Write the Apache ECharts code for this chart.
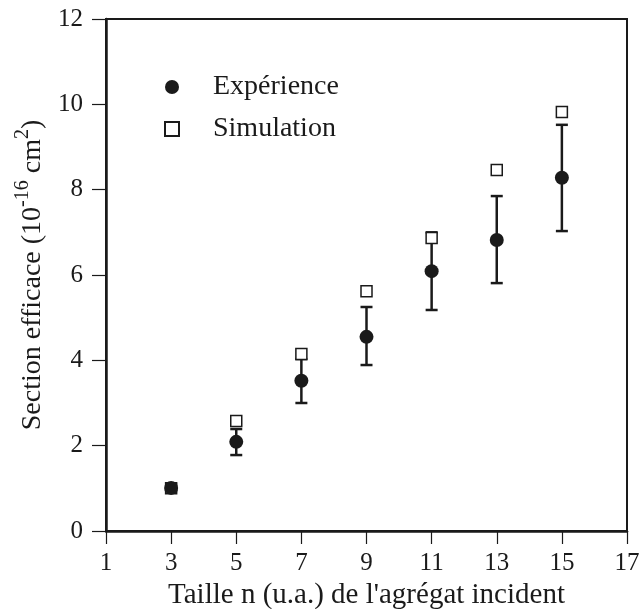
<!DOCTYPE html>
<html>
<head>
<meta charset="utf-8">
<script src="https://cdn.jsdelivr.net/npm/echarts@6/dist/echarts.min.js"></script>
<style>
html,body{margin:0;padding:0;background:#fff;}
#chart{width:641px;height:609px;}
</style>
</head>
<body>
<div id="chart"></div>
<script>
const sizes = [3, 5, 7, 9, 11, 13, 15];
const experience = [1.01, 2.09, 3.52, 4.55, 6.09, 6.82, 8.28];
const errLow = [0.93, 1.78, 3.00, 3.89, 5.18, 5.81, 7.03];
const errHigh = [1.10, 2.39, 4.03, 5.25, 7.00, 7.85, 9.52];
const simulation = [1.00, 2.58, 4.15, 5.62, 6.87, 8.46, 9.82];

const FONT = "'Liberation Serif', 'DejaVu Serif', serif";
const INK = '#1a1a1a';

const chart = echarts.init(document.getElementById('chart'));
chart.setOption({
  animation: false,
  backgroundColor: '#fff',
  grid: { left: 106, right: 14, top: 19, bottom: 78, outerBoundsMode: 'none', containLabel: false, show: true, borderColor: INK, borderWidth: 2, backgroundColor: 'transparent' },
  legend: {
    orient: 'vertical',
    left: 159,
    top: 68,
    itemGap: 14,
    itemWidth: 14,
    itemHeight: 14,
    textStyle: { fontFamily: FONT, fontSize: 28, color: INK, padding: [0, 0, 0, 29] },
    data: [
      { name: 'Expérience', icon: 'circle' },
      { name: 'Simulation', icon: 'rect' }
    ]
  },
  xAxis: {
    type: 'value', min: 1, max: 17, interval: 2,
    name: "Taille n (u.a.) de l'agrégat incident",
    nameLocation: 'middle', nameGap: 46,
    nameTextStyle: { fontFamily: FONT, fontSize: 29, color: INK },
    axisLine: { lineStyle: { color: INK, width: 2.5 } },
    axisTick: { show: true, inside: false, length: 13, lineStyle: { color: INK, width: 1.2 } },
    axisLabel: { fontFamily: FONT, fontSize: 25, color: INK, margin: 20 },
    splitLine: { show: false }
  },
  yAxis: {
    type: 'value', min: 0, max: 12, interval: 2,
    name: '{t|Section efficace (10}{s|-16}{t| cm}{s|2}{t|)}',
    nameLocation: 'middle', nameGap: 59, nameRotate: 90,
    nameTextStyle: {
      fontFamily: FONT, fontSize: 28, color: INK,
      rich: {
        t: { fontFamily: FONT, fontSize: 28, color: INK, lineHeight: 34, verticalAlign: 'bottom' },
        s: { fontFamily: FONT, fontSize: 20, color: INK, lineHeight: 34, verticalAlign: 'top' }
      }
    },
    axisLine: { lineStyle: { color: INK, width: 2.5 } },
    axisTick: { show: true, inside: false, length: 14, lineStyle: { color: INK, width: 1.2 } },
    axisLabel: { fontFamily: FONT, fontSize: 25, color: INK, margin: 23 },
    splitLine: { show: false }
  },
  series: [
    {
      type: 'custom',
      name: 'errorbars',
      data: sizes.map((s, i) => [s, errLow[i], errHigh[i]]),
      renderItem: function (params, api) {
        const x = api.value(0);
        const lo = api.coord([x, api.value(1)]);
        const hi = api.coord([x, api.value(2)]);
        const hw = 6;
        const st = { stroke: INK, lineWidth: 2.5 };
        return {
          type: 'group',
          children: [
            { type: 'line', shape: { x1: lo[0], y1: lo[1], x2: hi[0], y2: hi[1] }, style: st },
            { type: 'line', shape: { x1: hi[0] - hw, y1: hi[1], x2: hi[0] + hw, y2: hi[1] }, style: st },
            { type: 'line', shape: { x1: lo[0] - hw, y1: lo[1], x2: lo[0] + hw, y2: lo[1] }, style: st }
          ]
        };
      },
      z: 2
    },
    {
      type: 'scatter',
      name: 'Simulation',
      symbol: 'rect',
      symbolSize: 11,
      itemStyle: { color: '#fff', borderColor: INK, borderWidth: 1.5, opacity: 1 },
      data: sizes.map((s, i) => [s, simulation[i]]),
      z: 3
    },
    {
      type: 'scatter',
      name: 'Expérience',
      symbol: 'circle',
      symbolSize: 14,
      itemStyle: { color: INK, opacity: 1 },
      data: sizes.map((s, i) => [s, experience[i]]),
      z: 4
    }
  ]
});
</script>
</body>
</html>
